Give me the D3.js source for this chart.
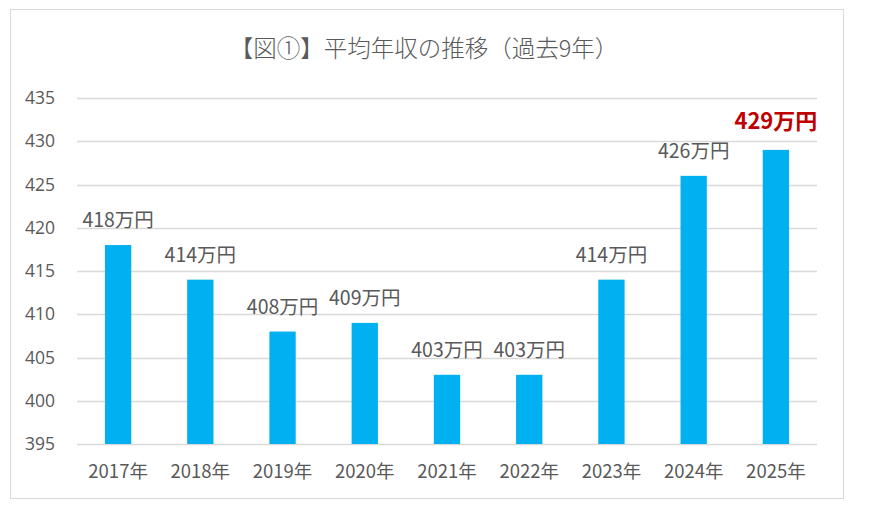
<!DOCTYPE html>
<html>
<head>
<meta charset="utf-8">
<script src="https://cdn.jsdelivr.net/npm/d3@7"></script>
<style>
  body { margin: 0; background: #fff; }
  text { font-family: "Noto Sans CJK JP", "Noto Sans", sans-serif; }
</style>
</head>
<body>
<svg width="870" height="505"></svg>
<script>
const years = ["2017年", "2018年", "2019年", "2020年", "2021年", "2022年", "2023年", "2024年", "2025年"];
const income = [418, 414, 408, 409, 403, 403, 414, 426, 429];
const yTicks = [395, 400, 405, 410, 415, 420, 425, 430, 435];

const svg = d3.select("svg"),
	width = +svg.attr("width"),
	height = +svg.attr("height");

const margin = { top: 98, right: 53, bottom: 61, left: 77 };

// chart frame
svg.append("rect")
	.attr("x", 10.5).attr("y", 9.5)
	.attr("width", 833).attr("height", 489)
	.attr("fill", "#fff")
	.attr("stroke", "#d9d9d9");

svg.append("text")
	.attr("x", 424).attr("y", 57)
	.attr("text-anchor", "middle")
	.attr("font-size", 23.5)
	.attr("font-weight", 300)
	.attr("fill", "#595959")
	.text("【図①】平均年収の推移（過去9年）");

const x = d3.scaleBand()
	.domain(years)
	.range([margin.left, width - margin.right])
	.paddingInner(0.68)
	.paddingOuter(0.34);

const y = d3.scaleLinear()
	.domain([395, 435])
	.range([height - margin.bottom, margin.top]);

// gridlines
svg.append("g")
	.selectAll("line")
	.data(yTicks)
	.join("line")
	.attr("x1", margin.left).attr("x2", width - margin.right)
	.attr("y1", d => Math.round(y(d)) + 0.5).attr("y2", d => Math.round(y(d)) + 0.5)
	.attr("stroke", "#d9d9d9")
	.attr("stroke-width", 1.3);

const yAxis = svg.append("g")
	.attr("transform", `translate(${margin.left - 22},0)`)
	.call(d3.axisLeft(y).tickValues(yTicks).tickSize(0).tickPadding(0));
yAxis.select(".domain").remove();
yAxis.selectAll("text")
	.attr("font-size", 17.5)
	.attr("fill", "#595959")
	.style("font-family", "'Open Sans', 'Noto Sans', sans-serif");

const xAxis = svg.append("g")
	.attr("transform", `translate(0,${height - margin.bottom})`)
	.call(d3.axisBottom(x).tickSize(0).tickPadding(21));
xAxis.select(".domain").remove();
xAxis.selectAll("text")
	.attr("font-size", 18.5)
	.attr("fill", "#595959");

svg.append("g")
	.selectAll("rect")
	.data(income)
	.join("rect")
	.attr("x", (d, i) => x(years[i]))
	.attr("width", x.bandwidth())
	.attr("y", d => y(d))
	.attr("height", d => y(395) - y(d))
	.attr("fill", "#00b0f0");

svg.append("g")
	.selectAll("text")
	.data(income)
	.join("text")
	.attr("x", (d, i) => x(years[i]) + x.bandwidth() / 2)
	.attr("y", (d, i) => y(d) - (i === income.length - 1 ? 21 : 18))
	.attr("text-anchor", "middle")
	.attr("font-size", (d, i) => i === income.length - 1 ? 22 : 19.5)
	.attr("font-weight", (d, i) => i === income.length - 1 ? "bold" : "normal")
	.attr("fill", (d, i) => i === income.length - 1 ? "#c00000" : "#595959")
	.text(d => d + "万円");
</script>
</body>
</html>
